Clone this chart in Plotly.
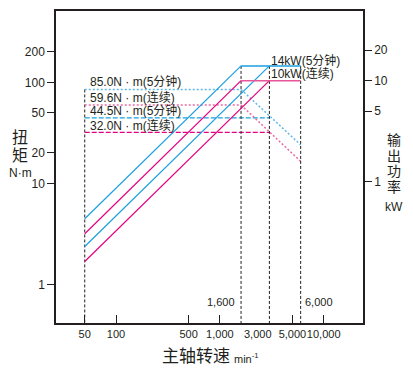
import math
import plotly.graph_objects as go

# ---- data ----
speed_low = 50
speed_base_5min = 1600
speed_base_cont = 3000
speed_max = 6000

torque_labels = ["85.0N · m(5分钟)", "59.6N · m(连续)", "44.5N · m(5分钟)", "32.0N · m(连续)"]
torque_values = [85.0, 59.6, 44.5, 32.0]
power_labels = ["14kW(5分钟)", "10kW(连续)"]

# rising power lines (kW) at constant torque: [start at 50 min-1, end]
p_blue1_speed = [50, 1600]
p_blue1_kw = [0.43, 14]
p_mag1_speed = [50, 1600]
p_mag1_kw = [0.305, 10]
p_blue2_speed = [50, 3000]
p_blue2_kw = [0.228, 14]
p_mag2_speed = [50, 3000]
p_mag2_kw = [0.162, 10]

# constant power lines (kW)
p14_speed = [1600, 6000]
p14_kw = [14, 14]
p10_speed = [1600, 6000]
p10_kw = [10, 10]

# falling torque lines at constant power (N·m)
t14_speed = [1600, 6000]
t14_nm = [85.0, 24.0]
t10_speed = [1600, 6000]
t10_nm = [59.6, 16.5]

# horizontal torque lines (N·m)
t85_speed = [50, 1600]
t85_nm = [85.0, 85.0]
t596_speed = [50, 1600]
t596_nm = [59.6, 59.6]
t445_speed = [50, 3000]
t445_nm = [44.5, 44.5]
t32_speed = [50, 3000]
t32_nm = [32.0, 32.0]

x_tickvals = [50, 100, 500, 1000, 5000, 10000]
x_ticktext = ["50", "100", "500", "1,000", "5,000", "10,000"]
yl_tickvals = [1, 10, 20, 50, 100, 200]
yr_tickvals = [1, 5, 10, 20]

BLUE = "#1a9fe0"
MAG = "#e5007f"
LBLUE = "#62b6e8"
LPINK = "#ec6aa4"
TXT = "#231f20"
FONT = "Liberation Sans, Arial, Noto Sans CJK SC"

fig = go.Figure()

def line(x, y, color, width=1.2, dash="solid", axis="y"):
    fig.add_trace(go.Scatter(x=x, y=y, mode="lines", yaxis=axis,
                             line=dict(color=color, width=width, dash=dash),
                             hoverinfo="skip", showlegend=False))

# vertical black dashed lines
line([speed_low, speed_low], [85.0, 0.3], "#231f20", 1, "3px,2px")
for s in [speed_base_5min, speed_base_cont, speed_max]:
    line([s, s], [14, 0.03], "#231f20", 1, "3px,2px", axis="y2")

# horizontal torque lines
line(t85_speed, t85_nm, LBLUE, 1.5, "2px,2px")
line(t596_speed, t596_nm, LPINK, 1.5, "2px,2px")
line(t445_speed, t445_nm, BLUE, 1.3, "5px,2px")
line(t32_speed, t32_nm, MAG, 1.3, "5px,2px")

# falling torque lines
line(t14_speed, t14_nm, LBLUE, 1.5, "2px,2px")
line(t10_speed, t10_nm, LPINK, 1.5, "2px,2px")

# rising power lines
line(p_blue1_speed, p_blue1_kw, BLUE, 1.2, axis="y2")
line(p_mag1_speed, p_mag1_kw, MAG, 1.2, axis="y2")
line(p_blue2_speed, p_blue2_kw, BLUE, 1.2, axis="y2")
line(p_mag2_speed, p_mag2_kw, MAG, 1.2, axis="y2")
line(p14_speed, p14_kw, BLUE, 1.5, axis="y2")
line(p10_speed, p10_kw, "#e8559a", 1.5, axis="y2")

# ---- layout geometry (page pixels; page body has an 8px margin) ----
OFF = 8
W, H = 413 - OFF, 373 - OFF
L, R, T, B = 56, 363, 11, 323   # plot area in page pixels

def px(xp):
    return (xp - L) / (R - L)

def py(yp):
    return (B - yp) / (B - T)

ann = []
def text(t, xp, yp, size=12, xanchor="left", yanchor="middle"):
    ann.append(dict(text=t, x=px(xp), y=py(yp), xref="paper", yref="paper",
                    xanchor=xanchor, yanchor=yanchor, showarrow=False,
                    font=dict(size=size, color=TXT, family=FONT)))

for lab, yp in zip(torque_labels, [82, 97, 111, 125]):
    text(lab, 88, yp)
for lab, yp in zip(power_labels, [60, 74]):
    text(lab, 269, yp)
text("1,600", 237, 302, 11, xanchor="right")
text("6,000", 303, 302, 11)
text("3,000", 257.5, 334, 11, xanchor="center")

# axis titles
text("扭", 20, 137, 16, "center")
text("矩", 20, 155, 16, "center")
text("N·m", 20, 173, 12, "center")
for ch, yp in zip("输出功率", [140, 155.5, 171, 187]):
    text(ch, 394, yp, 14, "center")
text("kW", 394, 207, 12, "center")
text("主轴转速", 196, 356, 17, "center")
text("min<sup>-1</sup>", 232, 358, 11, "left")

fig.update_layout(
    width=W, height=H,
    margin=dict(l=L - OFF, r=(W + OFF) - R, t=T - OFF, b=(H + OFF) - B,
                pad=0, autoexpand=False),
    paper_bgcolor="white", plot_bgcolor="white",
    font=dict(family=FONT, size=12, color=TXT),
    annotations=ann,
    xaxis=dict(type="log", range=[1.4222, 4.3784], tickvals=x_tickvals,
               ticktext=x_ticktext, ticks="inside", ticklen=8, tickwidth=1,
               tickangle=0, automargin=False,
               tickcolor=TXT, showline=True, linecolor=TXT, linewidth=1.5,
               mirror=True, showgrid=False, zeroline=False,
               tickfont=dict(size=11, color=TXT)),
    yaxis=dict(type="log", range=[-0.383, 2.706], tickvals=yl_tickvals,
               ticktext=[str(v) for v in yl_tickvals], ticks="outside",
               ticklen=7, tickwidth=1, tickcolor=TXT, showline=True,
               automargin=False,
               linecolor=TXT, linewidth=1.5, showgrid=False, zeroline=False,
               tickfont=dict(size=12, color=TXT)),
    yaxis2=dict(type="log", range=[-1.399, 1.690], overlaying="y", side="right",
                tickvals=yr_tickvals, ticktext=[str(v) for v in yr_tickvals],
                automargin=False,
                ticks="outside", ticklen=7, tickwidth=1, tickcolor=TXT,
                showline=True, linecolor=TXT, linewidth=1.5, showgrid=False,
                zeroline=False, tickfont=dict(size=12, color=TXT)),
)

fig.write_html("out.html")
